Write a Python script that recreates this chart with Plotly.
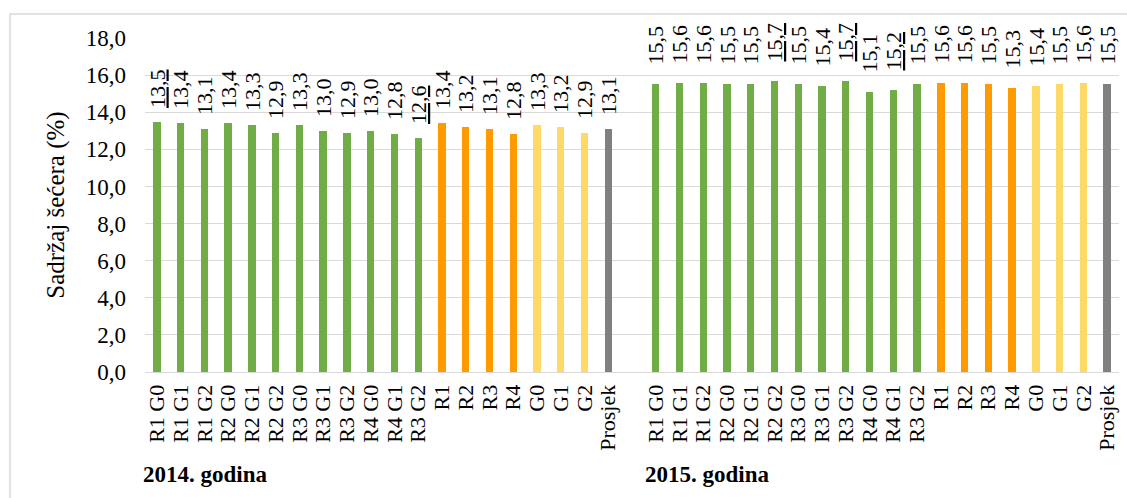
import plotly.graph_objects as go

# ---- data ----
categories = ["R1 G0", "R1 G1", "R1 G2", "R2 G0", "R2 G1", "R2 G2",
              "R3 G0", "R3 G1", "R3 G2", "R4 G0", "R4 G1", "R3 G2",
              "R1", "R2", "R3", "R4", "G0", "G1", "G2", "Prosjek"]
groups = ["green"] * 12 + ["orange"] * 4 + ["yellow"] * 3 + ["grey"]
values_2014 = [13.5, 13.4, 13.1, 13.4, 13.3, 12.9, 13.3, 13.0, 12.9, 13.0, 12.8, 12.6,
               13.4, 13.2, 13.1, 12.8, 13.3, 13.2, 12.9, 13.1]
values_2015 = [15.5, 15.6, 15.6, 15.5, 15.5, 15.7, 15.5, 15.4, 15.7, 15.1, 15.2, 15.5,
               15.6, 15.6, 15.5, 15.3, 15.4, 15.5, 15.6, 15.5]
years = ["2014. godina", "2015. godina"]
y_ticks = [0, 2, 4, 6, 8, 10, 12, 14, 16, 18]
underlined_2014 = {0: "solid", 11: "dotted"}
underlined_2015 = {5: "solid", 8: "solid", 10: "solid"}

colors = {"green": "#70AD47", "orange": "#FF9A00", "yellow": "#FFD966", "grey": "#808080"}
FONT = "Liberation Serif"

W, H = 1127, 498
ML, MR, MT, MB = 145, 8, 38, 126
PW, PH = W - ML - MR, H - MT - MB


def fmt(v):
    return f"{v:.1f}".replace(".", ",")


def label(v, style, pad):
    sp = "\u00a0" * pad
    if style == "solid":
        return sp + "<u>" + fmt(v) + "</u>"
    if style == "dotted":
        return sp + "<span style='text-decoration:underline dotted'>" + fmt(v) + "</span>"
    return sp + fmt(v)


n = len(categories)
x14 = list(range(n))
x15 = [i + n + 1 for i in range(n)]

fig = go.Figure()
for xs, vals, und, pad in [(x14, values_2014, underlined_2014, 2),
                           (x15, values_2015, underlined_2015, 3)]:
    fig.add_trace(go.Bar(
        x=xs, y=vals,
        marker=dict(color=[colors[g] for g in groups], line=dict(width=0)),
        width=0.31,
        text=[label(v, und.get(i), pad) for i, v in enumerate(vals)],
        textposition="outside",
        textangle=-90,
        constraintext="none",
        cliponaxis=False,
        textfont=dict(family=FONT, size=22, color="black"),
        showlegend=False,
        hoverinfo="skip",
    ))

fig.update_layout(
    width=W, height=H,
    margin=dict(l=ML, r=MR, t=MT, b=MB, autoexpand=False),
    paper_bgcolor="white", plot_bgcolor="white",
    font=dict(family=FONT, size=22, color="black"),
    separators=", ",
    bargap=0,
)

fig.update_xaxes(
    range=[-0.5, 2 * n + 0.5],
    tickvals=x14 + x15,
    ticktext=categories + categories,
    tickangle=-90,
    tickfont=dict(family=FONT, size=22, color="black"),
    showgrid=False, zeroline=False,
    showline=True, linecolor="#D9D9D9", linewidth=1,
    ticks="", ticklabelstandoff=3,
)
fig.update_yaxes(
    range=[0, 18],
    tickvals=y_ticks,
    tickformat=".1f",
    tickfont=dict(family=FONT, size=23, color="black"),
    showgrid=True, gridcolor="#D9D9D9", gridwidth=1,
    zeroline=False, showline=False, ticks="",
    ticklabelstandoff=18,
    title=dict(text="Sadržaj šećera (%)", font=dict(family=FONT, size=25, color="black"), standoff=14),
)

# year labels
year_left_px = [141, 643]
for yr, px in zip(years, year_left_px):
    fig.add_annotation(
        x=(px - ML) / PW, xref="paper", xanchor="left",
        y=(MT + PH - 474) / PH, yref="paper", yanchor="middle",
        text="<b>" + yr + "</b>", showarrow=False,
        font=dict(family=FONT, size=23, color="black"),
    )

# outer frame
fig.add_shape(type="rect", xref="paper", yref="paper",
              x0=(10 - ML) / PW, x1=1.05, y0=-0.5, y1=1 + (MT - 14) / PH,
              line=dict(color="#D9D9D9", width=1.5), layer="below")

fig.write_html("out.html", config={"displayModeBar": False},
               post_script="document.body.style.margin='0';document.body.style.overflow='hidden';")
